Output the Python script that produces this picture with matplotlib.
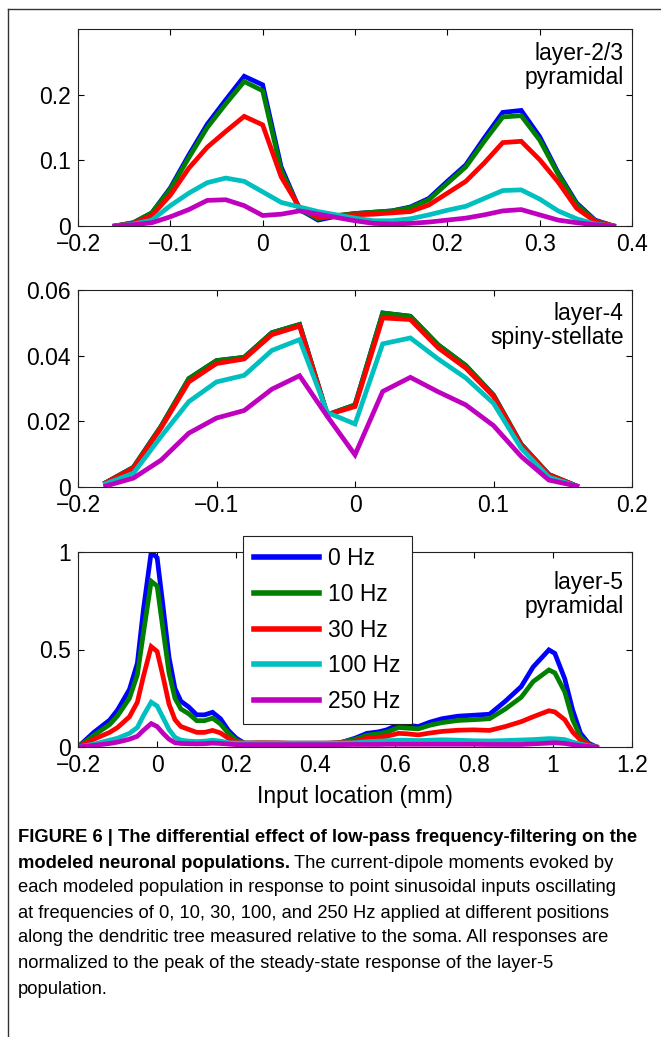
import matplotlib
matplotlib.use('Agg')
import matplotlib.pyplot as plt
from matplotlib.lines import Line2D

plt.rcParams['font.family'] = 'Liberation Sans'
plt.rcParams['axes.unicode_minus'] = True

freq_labels = ['0 Hz', '10 Hz', '30 Hz', '100 Hz', '250 Hz']
colors = ['#0000ff', '#008000', '#ff0000', '#00bfbf', '#bf00bf']

# layer-2/3 pyramidal
x_l23 = [-0.16, -0.14, -0.12, -0.10, -0.08, -0.06, -0.04, -0.02, 0.0, 0.02, 0.04, 0.06, 0.08, 0.10,
         0.12, 0.14, 0.16, 0.18, 0.20, 0.22, 0.24, 0.26, 0.28, 0.30, 0.32, 0.34, 0.36, 0.38]
l23_0 = [0, 0.005, 0.02, 0.058, 0.108, 0.155, 0.192, 0.228, 0.215, 0.09, 0.025, 0.009, 0.015, 0.019,
         0.021, 0.023, 0.029, 0.042, 0.068, 0.093, 0.134, 0.173, 0.176, 0.136, 0.081, 0.035, 0.009, 0]
l23_10 = [0, 0.005, 0.02, 0.056, 0.104, 0.15, 0.186, 0.22, 0.206, 0.085, 0.025, 0.011, 0.016, 0.019,
          0.021, 0.023, 0.028, 0.04, 0.065, 0.09, 0.129, 0.166, 0.168, 0.131, 0.079, 0.033, 0.008, 0]
l23_30 = [0, 0.004, 0.016, 0.047, 0.088, 0.12, 0.144, 0.167, 0.154, 0.075, 0.028, 0.013, 0.016, 0.017,
          0.018, 0.02, 0.022, 0.032, 0.05, 0.068, 0.096, 0.127, 0.129, 0.101, 0.067, 0.027, 0.007, 0]
l23_100 = [0, 0.003, 0.009, 0.031, 0.05, 0.066, 0.073, 0.068, 0.052, 0.036, 0.029, 0.022, 0.017, 0.012,
           0.008, 0.008, 0.011, 0.017, 0.024, 0.030, 0.042, 0.054, 0.055, 0.041, 0.023, 0.011, 0.003, 0]
l23_250 = [0, 0.002, 0.005, 0.014, 0.025, 0.039, 0.040, 0.031, 0.016, 0.018, 0.023, 0.018, 0.013, 0.008,
           0.004, 0.003, 0.004, 0.006, 0.009, 0.012, 0.017, 0.023, 0.025, 0.017, 0.009, 0.005, 0.002, 0]

# layer-4 spiny-stellate
x_l4 = [-0.18, -0.16, -0.14, -0.12, -0.10, -0.08, -0.06, -0.04, -0.02, 0.0,
        0.02, 0.04, 0.06, 0.08, 0.10, 0.12, 0.14, 0.16]
l4_0 = [0.0013, 0.006, 0.0185, 0.033, 0.0385, 0.0395, 0.047, 0.0495, 0.022, 0.025,
        0.053, 0.052, 0.0433, 0.037, 0.028, 0.013, 0.0038, 0.0003]
l4_10 = [0.0013, 0.006, 0.0185, 0.033, 0.0385, 0.0395, 0.047, 0.0495, 0.022, 0.025,
         0.053, 0.052, 0.0433, 0.037, 0.028, 0.013, 0.0038, 0.0003]
l4_30 = [0.0013, 0.0057, 0.018, 0.032, 0.0376, 0.039, 0.0464, 0.049, 0.022, 0.0245,
         0.0515, 0.051, 0.0424, 0.0362, 0.0276, 0.0128, 0.0037, 0.0003]
l4_100 = [0.001, 0.0042, 0.0154, 0.026, 0.032, 0.034, 0.0416, 0.0449, 0.0227, 0.0192,
          0.0436, 0.0454, 0.039, 0.0332, 0.0255, 0.0118, 0.003, 0.0003]
l4_250 = [0.0003, 0.0027, 0.0082, 0.0164, 0.021, 0.0233, 0.0298, 0.0339, 0.0215, 0.0098,
          0.0291, 0.0334, 0.029, 0.025, 0.0187, 0.0093, 0.0021, 0.0003]

# layer-5 pyramidal
x_l5 = [-0.2, -0.16, -0.12, -0.1, -0.07, -0.05, -0.035, -0.015, 0.0, 0.015, 0.03, 0.045, 0.06, 0.08,
        0.1, 0.12, 0.14, 0.16, 0.18, 0.2, 0.22, 0.26, 0.3, 0.34, 0.38, 0.42, 0.46, 0.5, 0.53, 0.56,
        0.58, 0.61, 0.63, 0.66, 0.69, 0.72, 0.76, 0.8, 0.84, 0.88, 0.92, 0.95, 0.99, 1.005, 1.03,
        1.05, 1.07, 1.09, 1.11]
l5_0 = [0, 0.075, 0.138, 0.19, 0.295, 0.43, 0.70, 1.0, 0.97, 0.72, 0.46, 0.30, 0.235, 0.205,
        0.165, 0.165, 0.178, 0.145, 0.085, 0.045, 0.02, 0.015, 0.015, 0.012, 0.012, 0.012, 0.02, 0.045, 0.07, 0.078,
        0.088, 0.115, 0.112, 0.105, 0.128, 0.145, 0.158, 0.163, 0.168, 0.235, 0.31, 0.41, 0.498, 0.48, 0.35,
        0.19, 0.07, 0.02, 0.0]
l5_10 = [0, 0.06, 0.115, 0.16, 0.25, 0.37, 0.58, 0.85, 0.825, 0.60, 0.38, 0.25, 0.195, 0.17,
         0.135, 0.135, 0.148, 0.118, 0.07, 0.035, 0.02, 0.02, 0.018, 0.016, 0.016, 0.017, 0.022, 0.04, 0.06, 0.068,
         0.076, 0.1, 0.097, 0.093, 0.112, 0.125, 0.136, 0.14, 0.145, 0.195, 0.255, 0.335, 0.395, 0.38, 0.283,
         0.14, 0.05, 0.015, 0]
l5_30 = [0, 0.04, 0.075, 0.10, 0.155, 0.23, 0.36, 0.515, 0.49, 0.36, 0.22, 0.14, 0.105, 0.09,
         0.075, 0.075, 0.085, 0.072, 0.045, 0.025, 0.02, 0.022, 0.022, 0.02, 0.02, 0.02, 0.022, 0.03, 0.045, 0.05,
         0.055, 0.07, 0.068, 0.062, 0.072, 0.08, 0.086, 0.088, 0.085, 0.105, 0.13, 0.155, 0.186, 0.18, 0.14,
         0.077, 0.035, 0.012, 0]
l5_100 = [0, 0.015, 0.035, 0.045, 0.07, 0.10, 0.16, 0.23, 0.21, 0.15, 0.09, 0.05, 0.035, 0.03,
          0.028, 0.03, 0.035, 0.03, 0.022, 0.02, 0.02, 0.02, 0.02, 0.02, 0.02, 0.02, 0.02, 0.022, 0.027, 0.03,
          0.032, 0.035, 0.035, 0.033, 0.035, 0.037, 0.035, 0.032, 0.031, 0.033, 0.036, 0.038, 0.043, 0.042, 0.038,
          0.025, 0.015, 0.006, 0]
l5_250 = [0, 0.008, 0.018, 0.025, 0.04, 0.055, 0.085, 0.12, 0.105, 0.07, 0.04, 0.022, 0.018, 0.017,
          0.016, 0.017, 0.02, 0.018, 0.015, 0.012, 0.012, 0.012, 0.012, 0.012, 0.012, 0.012, 0.012, 0.013, 0.013, 0.013,
          0.014, 0.014, 0.014, 0.014, 0.014, 0.014, 0.014, 0.014, 0.013, 0.013, 0.013, 0.016, 0.02, 0.022, 0.018,
          0.012, 0.007, 0.003, 0]

panels = [
    (x_l23, [l23_0, l23_10, l23_30, l23_100, l23_250], 'layer-2/3\npyramidal',
     (-0.2, 0.4), [-0.2, -0.1, 0, 0.1, 0.2, 0.3, 0.4], ['\u22120.2', '\u22120.1', '0', '0.1', '0.2', '0.3', '0.4'],
     (0, 0.3), [0, 0.1, 0.2], ['0', '0.1', '0.2'], 0.935),
    (x_l4, [l4_0, l4_10, l4_30, l4_100, l4_250], 'layer-4\nspiny-stellate',
     (-0.2, 0.2), [-0.2, -0.1, 0, 0.1, 0.2], ['\u22120.2', '\u22120.1', '0', '0.1', '0.2'],
     (0, 0.06), [0, 0.02, 0.04, 0.06], ['0', '0.02', '0.04', '0.06'], 0.94),
    (x_l5, [l5_0, l5_10, l5_30, l5_100, l5_250], 'layer-5\npyramidal',
     (-0.2, 1.2), [-0.2, 0, 0.2, 0.4, 0.6, 0.8, 1.0, 1.2], ['\u22120.2', '0', '0.2', '0.4', '0.6', '0.8', '1', '1.2'],
     (0, 1), [0, 0.5, 1], ['0', '0.5', '1'], 0.9),
]

W, H = 661, 1037
fig = plt.figure(figsize=(W / 100, H / 100), dpi=100)

fs = 16.5
ax_boxes = [(29, 226), (290, 487), (552, 747)]
axes = []
for (top, bottom), (x, ys, label, xlim, xt, xtl, ylim, yt, ytl, ty) in zip(ax_boxes, panels):
    ax = fig.add_axes([78 / W, 1 - bottom / H, (632 - 78) / W, (bottom - top) / H])
    for y, c, lab in zip(ys, colors, freq_labels):
        ax.plot(x, y, color=c, lw=3.4, label=lab, solid_joinstyle='miter')
    ax.set_xlim(*xlim)
    ax.set_ylim(*ylim)
    ax.set_xticks(xt)
    ax.set_xticklabels(xtl)
    ax.set_yticks(yt)
    ax.set_yticklabels(ytl)
    ax.tick_params(direction='in', top=True, right=True, length=4, width=0.8,
                   labelsize=fs, pad=5)
    for s in ax.spines.values():
        s.set_linewidth(0.8)
        s.set_color('#222222')
    ax.text(0.985, ty, label, transform=ax.transAxes, ha='right', va='top',
            fontsize=fs, linespacing=1.05)
    axes.append(ax)

leg = axes[2].legend(loc='upper left', bbox_to_anchor=(243 / W, 1 - 536 / H),
                     bbox_transform=fig.transFigure, borderaxespad=0, fontsize=fs,
                     handlelength=2.8, labelspacing=0.55, handletextpad=0.4,
                     borderpad=0.5, fancybox=False, framealpha=1)
leg.get_frame().set_edgecolor('#222222')
leg.get_frame().set_linewidth(0.8)
for h in leg.get_lines():
    h.set_linewidth(4)

fig.text(355 / W, 1 - 797 / H, 'Input location (mm)', ha='center', va='center', fontsize=fs)

# figure frame
fig.add_artist(Line2D([8 / W, 1], [1 - 9 / H, 1 - 9 / H], color='#333333', lw=1))
fig.add_artist(Line2D([8 / W, 8 / W], [0, 1 - 9 / H], color='#333333', lw=1))

# caption
cap_fam = 'Liberation Sans'
cfs = 13.2
x0 = 18 / W
line_y = [838, 863, 888, 913, 938, 963, 989]
fig.text(x0, 1 - line_y[0] / H,
         'FIGURE 6 | The differential effect of low-pass frequency-filtering on the',
         fontsize=cfs, fontweight='bold', family=cap_fam, va='center')
b = fig.text(x0, 1 - line_y[1] / H, 'modeled neuronal populations.',
             fontsize=cfs, fontweight='bold', family=cap_fam, va='center')
fig.canvas.draw()
bb = b.get_window_extent(fig.canvas.get_renderer())
fig.text(bb.x1 / W + 4 / W, 1 - line_y[1] / H, 'The current-dipole moments evoked by',
         fontsize=cfs, family=cap_fam, va='center')
rest = [
    'each modeled population in response to point sinusoidal inputs oscillating',
    'at frequencies of 0, 10, 30, 100, and 250 Hz applied at different positions',
    'along the dendritic tree measured relative to the soma. All responses are',
    'normalized to the peak of the steady-state response of the layer-5',
    'population.',
]
for yy, t in zip(line_y[2:], rest):
    fig.text(x0, 1 - yy / H, t, fontsize=cfs, family=cap_fam, va='center')

fig.savefig('out.png', dpi=100)
